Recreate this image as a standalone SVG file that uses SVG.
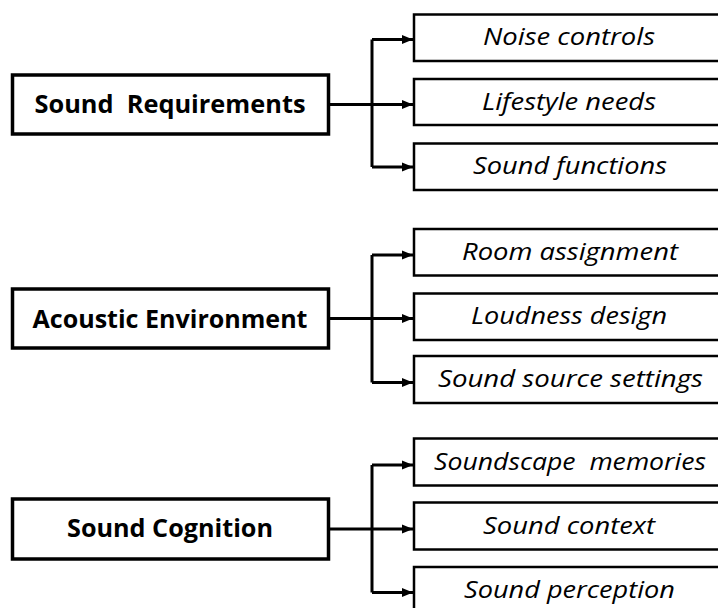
<svg xmlns="http://www.w3.org/2000/svg" width="718" height="608" viewBox="0 0 718 608">
<style>
.main rect{fill:#fff;stroke:#000;stroke-width:3.5}
.sub rect{fill:#fff;stroke:#000;stroke-width:2.5}
text{white-space:pre}
.main text{font-family:"Open Sans","Noto Sans","Liberation Sans",sans-serif;font-weight:bold;font-size:25px;fill:#000;text-anchor:middle}
.sub text{font-family:"Open Sans","Noto Sans","Liberation Sans",sans-serif;font-style:italic;font-size:23px;fill:#000;text-anchor:middle}
.conn path{fill:none;stroke:#000;stroke-width:3}
</style>
<defs>
<marker id="ah" markerUnits="userSpaceOnUse" markerWidth="11" markerHeight="10" refX="11" refY="5" orient="auto">
<path d="M0,0.5 L11,5 L0,9.5 Z" fill="#000"/>
</marker>
</defs>
<rect width="718" height="608" fill="#fff"/>
<g id="connectors" class="conn">
<path d="M329,104.5 H372"/>
<path d="M372,39.5 V167"/>
<path d="M372,39.5 H413" marker-end="url(#ah)"/>
<path d="M372,104.5 H413" marker-end="url(#ah)"/>
<path d="M372,167 H413" marker-end="url(#ah)"/>
<path d="M329,318.5 H372"/>
<path d="M372,255 V382.5"/>
<path d="M372,255 H413" marker-end="url(#ah)"/>
<path d="M372,318.5 H413" marker-end="url(#ah)"/>
<path d="M372,382.5 H413" marker-end="url(#ah)"/>
<path d="M329,529 H372"/>
<path d="M372,465 V592.5"/>
<path d="M372,465 H413" marker-end="url(#ah)"/>
<path d="M372,529 H413" marker-end="url(#ah)"/>
<path d="M372,592.5 H413" marker-end="url(#ah)"/>
</g>
<g id="sound-requirements" class="main"><rect x="12.5" y="75" width="316" height="59"/><text x="170" y="113" textLength="271" lengthAdjust="spacingAndGlyphs">Sound  Requirements</text></g>
<g id="acoustic-environment" class="main"><rect x="12.5" y="289" width="316" height="59"/><text x="170" y="328" textLength="275" lengthAdjust="spacingAndGlyphs">Acoustic Environment</text></g>
<g id="sound-cognition" class="main"><rect x="12.5" y="499" width="316" height="60"/><text x="170" y="537" textLength="206" lengthAdjust="spacingAndGlyphs">Sound Cognition</text></g>
<g id="noise-controls" class="sub"><rect x="414" y="14.5" width="320" height="46.5"/><text x="569" y="45" textLength="172" lengthAdjust="spacingAndGlyphs">Noise controls</text></g>
<g id="lifestyle-needs" class="sub"><rect x="414" y="79" width="320" height="46"/><text x="569" y="110" textLength="174" lengthAdjust="spacingAndGlyphs">Lifestyle needs</text></g>
<g id="sound-functions" class="sub"><rect x="414" y="143.5" width="320" height="46.5"/><text x="570" y="174" textLength="194" lengthAdjust="spacingAndGlyphs">Sound functions</text></g>
<g id="room-assignment" class="sub"><rect x="414" y="229" width="320" height="46.5"/><text x="570" y="260" textLength="216" lengthAdjust="spacingAndGlyphs">Room assignment</text></g>
<g id="loudness-design" class="sub"><rect x="414" y="293.5" width="320" height="46.5"/><text x="569" y="324" textLength="196" lengthAdjust="spacingAndGlyphs">Loudness design</text></g>
<g id="sound-source-settings" class="sub"><rect x="414" y="356" width="320" height="47"/><text x="570.5" y="387" textLength="265" lengthAdjust="spacingAndGlyphs">Sound source settings</text></g>
<g id="soundscape-memories" class="sub"><rect x="414" y="438.5" width="320" height="47"/><text x="570" y="470" textLength="272" lengthAdjust="spacingAndGlyphs">Soundscape  memories</text></g>
<g id="sound-context" class="sub"><rect x="414" y="502.5" width="320" height="47"/><text x="569" y="534" textLength="172" lengthAdjust="spacingAndGlyphs">Sound context</text></g>
<g id="sound-perception" class="sub"><rect x="414" y="567" width="320" height="48"/><text x="569.5" y="598" textLength="211" lengthAdjust="spacingAndGlyphs">Sound perception</text></g>
</svg>
